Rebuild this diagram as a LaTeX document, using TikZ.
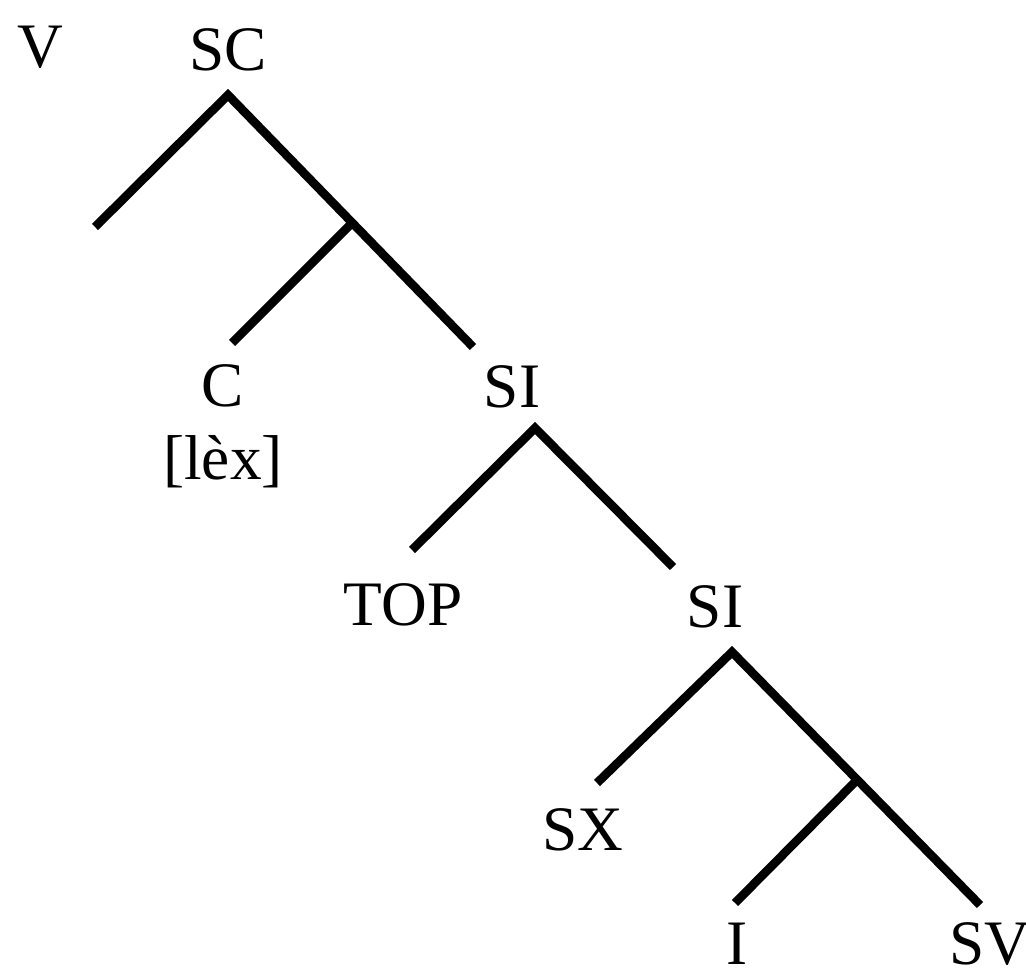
\documentclass[tikz,border=0pt]{standalone}
\usepackage{fontspec}
\setmainfont{Liberation Serif}
\usetikzlibrary{positioning}

\begin{document}
\begin{tikzpicture}[x=0.3pt,y=-0.3pt,
  label node/.style={inner sep=0pt,font=\fontsize{19}{23}\selectfont},
  branch/.style={draw,line width=2.6pt,miter limit=10}]

  \useasboundingbox (0,0) rectangle (1026,972);

  % labels
  \node[label node] (v) at (40,47) {V};
  \node[label node] (sc) at (228,50) {SC};
  \node[label node] (c) at (223,386) {C};
  \node[label node] (lex) [below=8pt of c] {[lèx]};
  \node[label node] (si1) at (512,387) {SI};
  \node[label node] (top) at (403,605) {TOP};
  \node[label node] (si2) at (715,607) {SI};
  \node[label node] (sx) at (583,830) {SX};
  \node[label node] (i) at (737,944) {I};
  \node[label node] (sv) at (990,944) {SV};

  % branch points
  \coordinate (sc top) at (228,95);
  \coordinate (sc left) at (95,227);
  \coordinate (cbar) at (352,223);
  \coordinate (c top) at (232,343);
  \coordinate (si1 top) at (535,428);
  \coordinate (si1 bot) at (473,347);
  \coordinate (top top) at (412,550);
  \coordinate (si2 bot) at (673,567);
  \coordinate (si2 top) at (732,652);
  \coordinate (sx top) at (597,783);
  \coordinate (ibar) at (855,782);
  \coordinate (i top) at (735,903);
  \coordinate (sv top) at (980,905);

  \path[branch] (sc left) -- (sc top) -- (si1 bot);
  \path[branch] (c top) -- (cbar);
  \path[branch] (top top) -- (si1 top) -- (si2 bot);
  \path[branch] (sx top) -- (si2 top) -- (sv top);
  \path[branch] (i top) -- (ibar);
\end{tikzpicture}
\end{document}
